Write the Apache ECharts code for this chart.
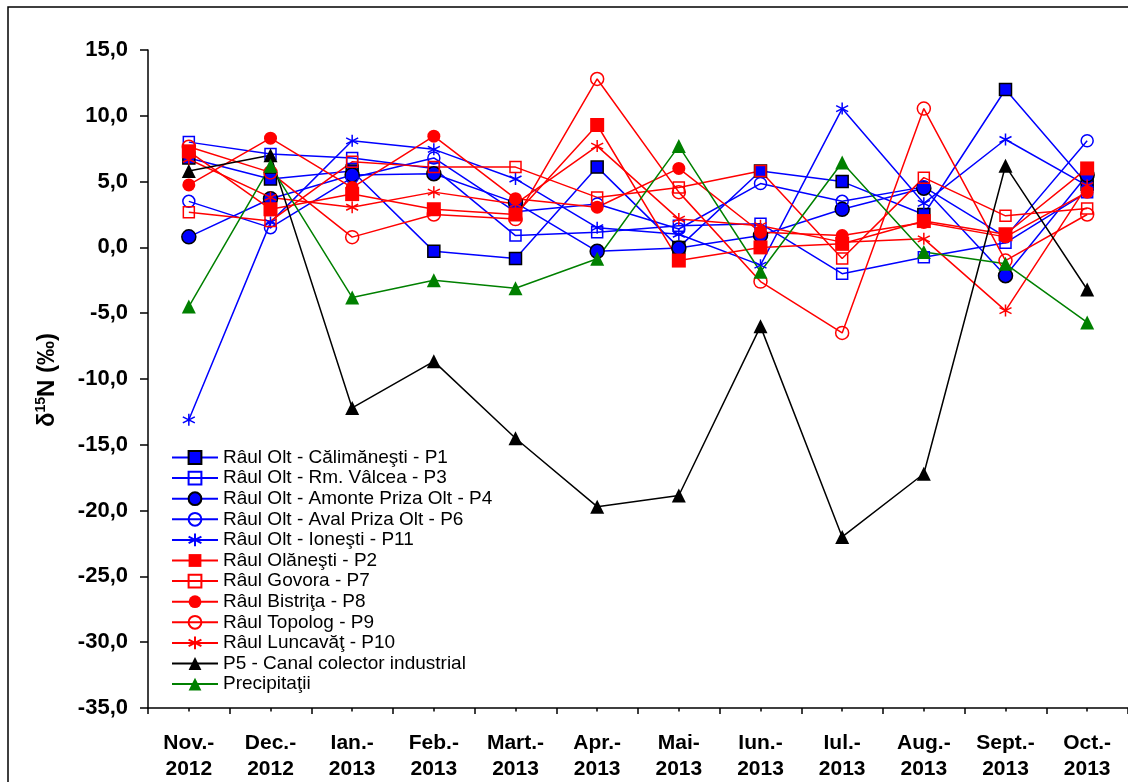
<!DOCTYPE html>
<html>
<head>
<meta charset="utf-8">
<script src="https://cdn.jsdelivr.net/npm/echarts@6/dist/echarts.min.js"></script>
<style>
  html, body { margin: 0; padding: 0; background: #fff; }
  #chart { width: 1128px; height: 782px; }
</style>
</head>
<body>
<div id="chart"></div>
<script>
// Sampling campaigns (month - year)
const categories = ['Nov.-\n2012', 'Dec.-\n2012', 'Ian.-\n2013', 'Feb.-\n2013', 'Mart.-\n2013', 'Apr.-\n2013',
  'Mai-\n2013', 'Iun.-\n2013', 'Iul.-\n2013', 'Aug.-\n2013', 'Sept.-\n2013', 'Oct.-\n2013'];

// δ15N (‰) per sampling point
const oltCalimanesti = [6.8, 5.2, 5.8, -0.3, -0.85, 6.1, 0.0, 5.8, 5.0, 2.5, 12.0, 4.8];
const oltRmValcea = [8.0, 7.1, 6.8, 6.0, 0.9, 1.15, 1.65, 1.8, -2.0, -0.75, 0.35, 4.2];
const oltAmontePriza = [0.8, 3.7, 5.5, 5.6, 3.4, -0.3, -0.05, 0.9, 2.9, 4.5, -2.15, 5.5];
const oltAvalPriza = [3.5, 1.5, 5.3, 6.8, 2.7, 3.3, 1.4, 4.85, 3.5, 4.6, 0.8, 8.1];
const oltIonesti = [-13.1, 1.9, 8.1, 7.45, 5.2, 1.5, 1.0, -1.35, 10.55, 3.35, 8.2, 4.7];
const olanesti = [7.3, 2.9, 4.05, 2.9, 2.5, 9.3, -1.0, 0.0, 0.27, 2.0, 1.0, 6.0];
const govora = [2.67, 2.0, 6.5, 6.1, 6.1, 3.8, 4.55, 5.8, -0.85, 5.3, 2.4, 2.95];
const bistrita = [4.75, 8.3, 4.55, 8.45, 3.7, 3.05, 6.0, 1.15, 0.9, 1.9, 0.8, 4.2];
const topolog = [7.65, 5.7, 0.78, 2.5, 2.15, 12.8, 4.2, -2.6, -6.5, 10.55, -1.0, 2.5];
const luncavat = [6.7, 3.8, 3.05, 4.2, 3.3, 7.7, 2.15, 1.65, 0.4, 0.65, -4.8, 4.7];
const canalColector = [5.8, 7.0, -12.2, -8.66, -14.5, -19.7, -18.85, -6.0, -22.0, -17.2, 6.2, -3.2];
const precipitatii = [-4.5, 6.2, -3.8, -2.5, -3.1, -0.86, 7.7, -1.85, 6.45, -0.35, -1.25, -5.7];

// Y axis range
const yMin = -35, yMax = 15, yStep = 5;

const BLUE = '#0000FF', RED = '#FF0000', BLACK = '#000000', GREEN = '#008000';
const FONT = '"Liberation Sans", Arial, sans-serif';
const ASTERISK = 'path://M5,0L5,10M0.67,2.5L9.33,7.5M0.67,7.5L9.33,2.5';

function series(name, data, color, symbol, size, filled, edge) {
  return {
    name: name,
    type: 'line',
    data: data,
    symbol: symbol,
    symbolSize: size,
    showAllSymbol: true,
    lineStyle: { color: color, width: 1.5 },
    itemStyle: {
      color: filled ? color : 'transparent',
      borderColor: edge || color,
      borderWidth: filled ? (edge ? 1.5 : 0) : 1.5
    },
    emphasis: { disabled: true },
    animation: false
  };
}

const seriesList = [
  series('Râul Olt - Călimăneşti - P1', oltCalimanesti, BLUE, 'rect', 12, true, BLACK),
  series('Râul Olt - Rm. Vâlcea - P3', oltRmValcea, BLUE, 'rect', 11, false),
  series('Râul Olt - Amonte Priza Olt - P4', oltAmontePriza, BLUE, 'circle', 14, true, BLACK),
  series('Râul Olt - Aval Priza Olt - P6', oltAvalPriza, BLUE, 'circle', 12, false),
  series('Râul Olt - Ioneşti - P11', oltIonesti, BLUE, ASTERISK, 12, false),
  series('Râul Olăneşti - P2', olanesti, RED, 'rect', 14, true),
  series('Râul Govora - P7', govora, RED, 'rect', 11, false),
  series('Râul Bistriţa - P8', bistrita, RED, 'circle', 13, true),
  series('Râul Topolog - P9', topolog, RED, 'circle', 13, false),
  series('Râul Luncavăţ - P10', luncavat, RED, ASTERISK, 12, false),
  series('P5 - Canal colector industrial', canalColector, BLACK, 'triangle', 14, true),
  series('Precipitaţii', precipitatii, GREEN, 'triangle', 14, true)
];

const chart = echarts.init(document.getElementById('chart'), null, { renderer: 'canvas' });

chart.setOption({
  backgroundColor: '#ffffff',
  animation: false,
  grid: { left: 148, top: 50, width: 992, height: 661, containLabel: false },
  legend: {
    orient: 'vertical',
    left: 166,
    top: 443,
    itemWidth: 46,
    itemHeight: 16,
    itemGap: 1.6,
    textStyle: { fontFamily: FONT, fontSize: 19, lineHeight: 16, color: '#000' },
    selectedMode: false,
    data: seriesList.map(s => s.name)
  },
  xAxis: [{
    type: 'category',
    data: categories,
    boundaryGap: true,
    axisLine: { onZero: false, lineStyle: { color: '#000', width: 1.5 } },
    axisTick: { show: true, length: 6, lineStyle: { color: '#000', width: 1.5 } },
    axisLabel: {
      interval: 0, margin: 22, color: '#000', fontFamily: FONT, fontWeight: 'bold',
      fontSize: 21, lineHeight: 26
    },
    splitLine: { show: false }
  }, {
    // short ticks under each campaign
    type: 'category',
    data: categories,
    boundaryGap: true,
    position: 'bottom',
    axisLine: { show: false, onZero: false },
    axisTick: { show: true, alignWithLabel: true, length: 3.5, lineStyle: { color: '#000', width: 1.5 } },
    axisLabel: { show: false },
    splitLine: { show: false }
  }],
  yAxis: {
    type: 'value',
    min: yMin, max: yMax, interval: yStep,
    axisLine: { show: true, lineStyle: { color: '#000', width: 1.5 } },
    axisTick: { show: true, length: 8, lineStyle: { color: '#000', width: 1.5 } },
    axisLabel: {
      margin: 20, color: '#000', fontFamily: FONT, fontWeight: 'bold', fontSize: 22,
      formatter: v => v.toFixed(1).replace('.', ',')
    },
    splitLine: { show: false }
  },
  graphic: [
    {
      type: 'rect',
      shape: { x: 8, y: 7, width: 1300, height: 1000 },
      style: { fill: 'none', stroke: '#000', lineWidth: 1.5 },
      silent: true
    },
    {
      type: 'text',
      x: 47, y: 380,
      rotation: Math.PI / 2,
      style: {
        text: '{b|δ}{s|15}{b|N (‰)}',
        align: 'center',
        verticalAlign: 'middle',
        rich: {
          b: { fontFamily: FONT, fontWeight: 'bold', fontSize: 24, fill: '#000', verticalAlign: 'bottom' },
          s: { fontFamily: FONT, fontWeight: 'bold', fontSize: 14, fill: '#000', verticalAlign: 'top', padding: [0, 0, 11, 0] }
        }
      },
      silent: true
    }
  ],
  series: seriesList
});
</script>
</body>
</html>
